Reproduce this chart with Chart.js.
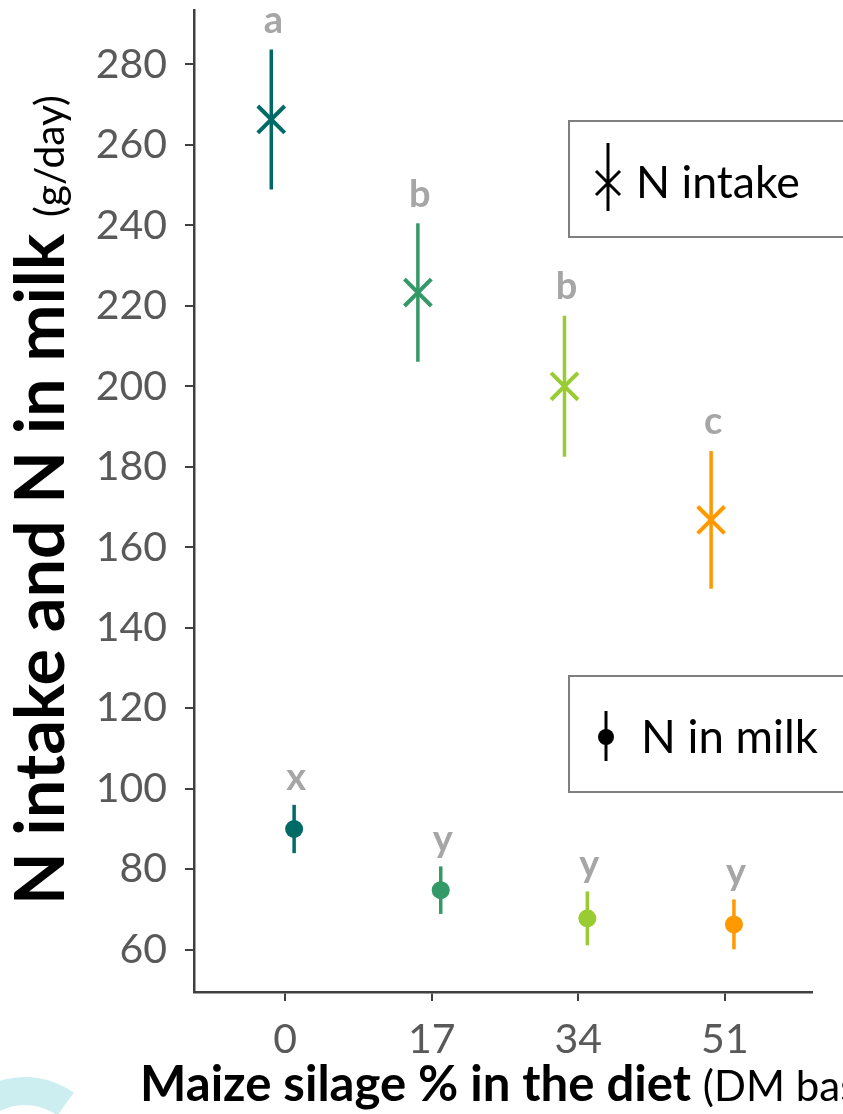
<!DOCTYPE html>
<html>
<head>
<meta charset="utf-8">
<script src="https://cdn.jsdelivr.net/npm/chart.js@4.4.1/dist/chart.umd.min.js"></script>
<style>
  html, body { margin: 0; padding: 0; background: #fff; }
  #wrap { width: 843px; height: 1114px; position: relative; }
</style>
</head>
<body>
<div id="wrap"><canvas id="nChart"></canvas></div>
<script>
// maize silage share in the diet (% DM)
const doses = [0, 17, 34, 51];
const intakeMean = [266.3, 223.3, 200.0, 166.8];
const intakeErr = [17.4, 17.2, 17.5, 17.1];
const intakeLetters = ["a", "b", "b", "c"];
const milkMean = [90.0, 74.8, 67.8, 66.3];
const milkErr = [6.0, 5.9, 6.7, 6.2];
const milkLetters = ["x", "y", "y", "y"];
const yTicks = [60, 80, 100, 120, 140, 160, 180, 200, 220, 240, 260, 280];
const doseColors = ["#006b66", "#339966", "#99cc33", "#ff9900"];

const INTAKE_SHIFT = -1.6; // dodge
const MILK_SHIFT = 1.05;
const FONT = "Lato, 'Open Sans', sans-serif";

// fit a string to a pixel width, returns font size
function fitSize(ctx, text, weight, width) {
  ctx.font = weight + " 100px " + FONT;
  return 100 * width / ctx.measureText(text).width;
}

const decor = {
  id: "decor",
  beforeDatasetsDraw(chart) {
    const { ctx, scales: { x, y } } = chart;
    ctx.save();
    ctx.lineWidth = 3.5;
    doses.forEach((d, i) => {
      ctx.strokeStyle = doseColors[i];
      let px = x.getPixelForValue(d + INTAKE_SHIFT);
      ctx.beginPath();
      ctx.moveTo(px, y.getPixelForValue(intakeMean[i] - intakeErr[i]));
      ctx.lineTo(px, y.getPixelForValue(intakeMean[i] + intakeErr[i]));
      ctx.stroke();
      px = x.getPixelForValue(d + MILK_SHIFT);
      ctx.beginPath();
      ctx.moveTo(px, y.getPixelForValue(milkMean[i] - milkErr[i]));
      ctx.lineTo(px, y.getPixelForValue(milkMean[i] + milkErr[i]));
      ctx.stroke();
    });
    ctx.restore();
  },
  afterDraw(chart) {
    const { ctx, scales: { x, y } } = chart;
    ctx.save();

    // significance letters
    ctx.fillStyle = "#a6a6a6";
    ctx.font = "bold 38px " + FONT;
    ctx.textAlign = "center";
    ctx.textBaseline = "middle";
    doses.forEach((d, i) => {
      ctx.fillText(intakeLetters[i], x.getPixelForValue(d + INTAKE_SHIFT) + 2,
        y.getPixelForValue(intakeMean[i] + intakeErr[i]) - 29);
      ctx.fillText(milkLetters[i], x.getPixelForValue(d + MILK_SHIFT) + 2,
        y.getPixelForValue(milkMean[i] + milkErr[i]) - 27);
    });

    // legend boxes (run off the right edge)
    ctx.strokeStyle = "#7f7f7f";
    ctx.lineWidth = 2;
    ctx.strokeRect(569, 121, 320, 116);
    ctx.strokeRect(569, 676, 320, 116);
    ctx.strokeStyle = "#000";
    ctx.fillStyle = "#000";
    ctx.lineWidth = 3;
    ctx.beginPath();
    ctx.moveTo(608, 143); ctx.lineTo(608, 211);
    ctx.moveTo(596, 171); ctx.lineTo(620, 195);
    ctx.moveTo(620, 171); ctx.lineTo(596, 195);
    ctx.stroke();
    ctx.beginPath();
    ctx.moveTo(606, 711); ctx.lineTo(606, 761);
    ctx.stroke();
    ctx.beginPath();
    ctx.arc(606, 737, 8, 0, Math.PI * 2);
    ctx.fill();
    ctx.textAlign = "left";
    ctx.textBaseline = "alphabetic";
    ctx.font = fitSize(ctx, "N intake", "normal", 164) + "px " + FONT;
    ctx.fillText("N intake", 636, 198);
    ctx.font = fitSize(ctx, "N in milk", "normal", 177) + "px " + FONT;
    ctx.fillText("N in milk", 641, 753);

    // y axis title
    ctx.save();
    ctx.translate(64, 905);
    ctx.rotate(-Math.PI / 2);
    const yBold = "N intake and N in milk ";
    ctx.font = "bold " + fitSize(ctx, yBold, "bold", 688) + "px " + FONT;
    ctx.fillText(yBold, 0, 0);
    const yw = ctx.measureText(yBold).width;
    ctx.font = fitSize(ctx, "(g/day)", "normal", 122) + "px " + FONT;
    ctx.fillText("(g/day)", yw, 0);
    ctx.restore();

    // x axis title
    const xBold = "Maize silage % in the diet ";
    ctx.font = "bold " + fitSize(ctx, xBold, "bold", 563) + "px " + FONT;
    ctx.fillText(xBold, 140, 1101);
    const xw = ctx.measureText(xBold).width;
    ctx.font = "42px " + FONT;
    ctx.fillText("(DM basis)", 140 + xw, 1101);

    // watermark fragment, bottom left
    ctx.strokeStyle = "#cdeef0";
    ctx.lineWidth = 28;
    ctx.beginPath();
    ctx.arc(25, 1160, 69, Math.PI * 1.05, Math.PI * 1.7);
    ctx.stroke();

    ctx.restore();
  }
};

const tickFont = { family: FONT, size: 41 };

new Chart(document.getElementById("nChart"), {
  type: "scatter",
  data: {
    datasets: [
      {
        label: "N intake",
        data: doses.map((d, i) => ({ x: d + INTAKE_SHIFT, y: intakeMean[i] })),
        pointStyle: "crossRot",
        pointRadius: 19,
        pointBorderWidth: 4,
        pointBorderColor: doseColors,
        pointBackgroundColor: doseColors,
        showLine: false
      },
      {
        label: "N in milk",
        data: doses.map((d, i) => ({ x: d + MILK_SHIFT, y: milkMean[i] })),
        pointStyle: "circle",
        pointRadius: 9,
        pointBorderWidth: 0,
        pointBorderColor: doseColors,
        pointBackgroundColor: doseColors,
        showLine: false
      }
    ]
  },
  options: {
    responsive: true,
    maintainAspectRatio: false,
    animation: false,
    layout: { autoPadding: false, padding: { top: 10, right: 31, left: 0, bottom: 0 } },
    plugins: { legend: { display: false }, tooltip: { enabled: false } },
    scales: {
      x: {
        type: "linear",
        min: -10.56,
        max: 61.1,
        afterBuildTicks: s => { s.ticks = doses.map(v => ({ value: v })); },
        afterFit: s => { s.height = 122; s.paddingLeft = 0; s.paddingRight = 0; },
        grid: { drawOnChartArea: false, drawTicks: true, tickLength: 9, color: "#404040", lineWidth: 2 },
        border: { display: true, color: "#404040", width: 2.5 },
        ticks: { color: "#595959", font: tickFont, padding: 14 }
      },
      y: {
        min: 49.5,
        max: 293.5,
        afterBuildTicks: s => { s.ticks = yTicks.map(v => ({ value: v })); },
        afterFit: s => { s.width = 194; s.paddingTop = 0; s.paddingBottom = 0; },
        grid: { drawOnChartArea: false, drawTicks: true, tickLength: 9, color: "#404040", lineWidth: 2 },
        border: { display: true, color: "#404040", width: 2.5 },
        ticks: { color: "#595959", font: tickFont, padding: 18 }
      }
    }
  },
  plugins: [decor]
});
</script>
</body>
</html>
